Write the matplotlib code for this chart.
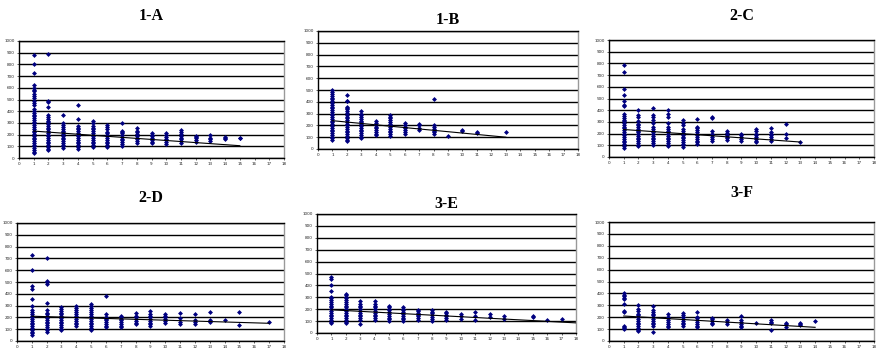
import matplotlib
matplotlib.use("Agg")
import matplotlib.pyplot as plt

# y values per column (column index = x value, starting at 1)
a_cols = [
    [45, 55, 70, 85, 100, 115, 130, 145, 160, 175, 190, 205, 220, 235, 250, 265, 280, 295, 310,
     325, 340, 355, 370, 385, 400, 415, 450, 470, 490, 510, 530, 550, 570, 585, 600, 620, 730, 800, 880],
    [65, 80, 95, 110, 125, 140, 155, 170, 185, 200, 215, 230, 245, 260, 275, 290, 305, 320, 335,
     350, 365, 440, 480, 490, 890],
    [85, 100, 115, 130, 145, 160, 175, 190, 205, 220, 235, 250, 265, 280, 300, 370],
    [80, 95, 110, 125, 140, 155, 170, 185, 200, 215, 230, 245, 260, 275, 330, 450],
    [95, 110, 125, 140, 155, 170, 185, 200, 215, 230, 245, 260, 270, 295, 320],
    [95, 110, 125, 140, 155, 170, 185, 200, 215, 225, 250, 265, 280],
    [105, 120, 135, 150, 165, 180, 195, 210, 225, 235, 300],
    [130, 145, 160, 175, 190, 205, 220, 235, 255],
    [125, 140, 155, 170, 185, 200, 210],
    [120, 135, 150, 165, 180, 195, 210],
    [130, 145, 160, 175, 190, 205, 220, 240],
    [140, 155, 170, 180, 190],
    [145, 160, 175, 195],
    [160, 170, 180],
    [170, 175],
]
b_cols = [
    [75, 90, 105, 120, 135, 150, 165, 180, 195, 210, 225, 240, 255, 270, 285, 300, 315, 330, 345,
     360, 375, 390, 405, 420, 435, 450, 465, 480, 500],
    [65, 80, 95, 110, 125, 140, 155, 170, 185, 200, 215, 230, 245, 260, 275, 290, 305, 320, 335,
     350, 360, 405, 410, 455],
    [90, 105, 120, 135, 150, 165, 180, 195, 210, 225, 240, 255, 270, 285, 300, 320],
    [115, 130, 145, 160, 175, 190, 205, 220, 240],
    [110, 125, 140, 155, 170, 185, 200, 215, 230, 245, 260, 275, 290],
    [130, 145, 160, 175, 190, 205, 220],
    [160, 175, 200, 215],
    [125, 140, 155, 170, 185, 200, 420],
    [110],
    [150, 160],
    [135, 140],
    [],
    [140],
]
c_cols = [
    [80, 95, 110, 125, 140, 155, 170, 185, 200, 215, 230, 245, 260, 275, 290, 305, 320, 335, 350,
     370, 440, 445, 480, 530, 580, 730, 785],
    [90, 105, 120, 135, 150, 165, 180, 195, 210, 225, 240, 255, 270, 285, 310, 340, 360, 405],
    [105, 120, 135, 150, 165, 180, 195, 210, 225, 240, 260, 290, 320, 340, 360, 415],
    [90, 105, 120, 135, 150, 165, 180, 195, 210, 225, 240, 260, 290, 340, 370, 400],
    [85, 100, 115, 130, 145, 160, 175, 190, 205, 220, 240, 270, 290, 320],
    [110, 125, 140, 155, 170, 185, 200, 215, 230, 245, 260, 325],
    [140, 155, 170, 185, 200, 220, 335, 345],
    [145, 160, 175, 190, 205, 225],
    [140, 155, 170, 185, 200],
    [125, 140, 155, 170, 185, 200, 220, 240],
    [140, 155, 170, 185, 200, 215, 245],
    [160, 195, 280],
    [125],
]
d_cols = [
    [50, 65, 80, 95, 110, 125, 140, 155, 170, 185, 200, 215, 230, 245, 265, 300, 360, 440, 470, 600, 725],
    [75, 90, 105, 120, 135, 150, 165, 180, 195, 210, 225, 240, 260, 320, 480, 500, 510, 700],
    [90, 105, 120, 135, 150, 165, 180, 195, 210, 225, 240, 255, 270, 290],
    [125, 140, 155, 170, 185, 200, 215, 230, 245, 260, 280, 300],
    [95, 110, 125, 140, 155, 170, 185, 200, 215, 230, 245, 260, 280, 295, 310],
    [115, 130, 145, 160, 175, 190, 205, 225, 385],
    [115, 130, 145, 160, 175, 190, 205, 215],
    [140, 155, 170, 185, 200, 215, 235],
    [125, 140, 155, 170, 185, 200, 215, 230, 255],
    [155, 170, 185, 200, 215, 230],
    [145, 160, 195, 240],
    [140, 160, 180, 225],
    [160, 175, 245],
    [175],
    [135, 245],
    [],
    [165],
]
e_cols = [
    [80, 95, 110, 125, 140, 155, 170, 185, 200, 215, 230, 245, 260, 275, 290, 300, 350, 400, 450, 470],
    [80, 95, 110, 125, 140, 155, 170, 185, 200, 215, 230, 245, 260, 275, 290, 305, 320, 330],
    [75, 110, 125, 140, 155, 170, 185, 200, 215, 230, 245, 265],
    [110, 125, 140, 155, 170, 185, 200, 215, 230, 245, 265],
    [100, 115, 130, 145, 160, 175, 190, 205, 220, 230],
    [100, 115, 130, 145, 160, 175, 190, 205, 220],
    [110, 125, 140, 155, 170, 185, 195],
    [105, 120, 135, 150, 165, 180, 190],
    [110, 125, 140, 155, 170, 180],
    [115, 140, 160],
    [110, 140, 175],
    [135, 160],
    [115, 140],
    [],
    [135, 145],
    [110],
    [120],
]
f_cols = [
    [100, 110, 120, 130, 245, 250, 310, 350, 360, 375, 390, 405],
    [80, 95, 110, 125, 140, 155, 170, 185, 200, 215, 230, 250, 270, 300],
    [75, 125, 140, 155, 170, 185, 200, 215, 230, 245, 260, 290],
    [115, 130, 145, 160, 175, 190, 205, 225],
    [125, 140, 155, 170, 185, 200, 215, 235],
    [115, 130, 145, 160, 175, 190, 205, 240],
    [140, 155, 170, 185, 195],
    [145, 160, 175],
    [115, 130, 145, 160, 175, 210],
    [155],
    [95, 150, 160, 180],
    [120, 140, 155],
    [135, 145, 155],
    [170],
]

# linear trend end points (x, y)
a_trend = ([1, 15], [230, 105])
b_trend = ([1, 13], [240, 100])
c_trend = ([1, 13], [235, 128])
d_trend = ([1, 17], [210, 150])
e_trend = ([1, 18], [195, 85])
f_trend = ([1, 14], [210, 115])

titles = ["1-A", "1-B", "2-C", "2-D", "3-E", "3-F"]
panels = [a_cols, b_cols, c_cols, d_cols, e_cols, f_cols]
trends = [a_trend, b_trend, c_trend, d_trend, e_trend, f_trend]

W, H = 879, 349
# axes boxes in pixels: left, right, top, bottom
boxes = [(19, 284, 41, 158), (318, 578, 31, 149), (609, 874, 40, 157),
         (17, 284, 223, 341), (317, 576, 214, 333), (609, 874, 222, 341)]
title_y = [16, 20, 16, 198, 204, 193]

fig = plt.figure(figsize=(W / 100, H / 100), dpi=100)
navy = "#000080"

for cols, trend, title, box, ty in zip(panels, trends, titles, boxes, title_y):
    l, r, t, b = box
    ax = fig.add_axes([l / W, 1 - b / H, (r - l) / W, (b - t) / H])
    xs, ys = [], []
    for i, col in enumerate(cols):
        xs += [i + 1] * len(col)
        ys += col
    ax.plot(xs, ys, linestyle="none", marker="D", ms=2.5, mew=0, color=navy, zorder=3)
    ax.plot(trend[0], trend[1], color="black", lw=0.8, zorder=4)
    ax.set_xlim(0, 18)
    ax.set_ylim(0, 1000)
    ax.set_xticks(range(0, 19))
    ax.set_yticks(range(0, 1001, 100))
    ax.yaxis.grid(True, color="black", lw=1.0)
    ax.set_axisbelow(True)
    ax.tick_params(labelsize=3, length=1.5, width=0.5, pad=1.5, colors="#222222")
    for side in ["left", "bottom", "top"]:
        ax.spines[side].set_linewidth(1.0)
    ax.spines["right"].set_color("#999999")
    ax.spines["right"].set_linewidth(1.0)
    fig.text((l + r) / 2 / W, 1 - ty / H, title, ha="center", va="center",
             fontsize=11.5, fontweight="bold", family="Liberation Serif")

fig.savefig("out.png", dpi=100)
